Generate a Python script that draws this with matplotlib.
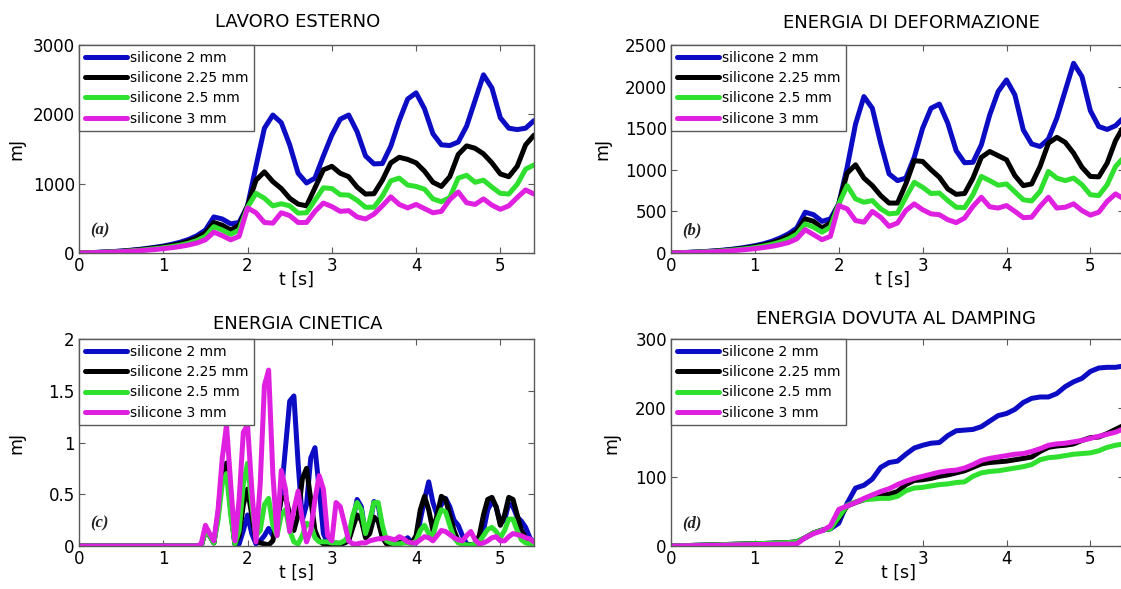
import numpy as np
import matplotlib
matplotlib.use('Agg')
import matplotlib.pyplot as plt

# sampling times [s]
t = np.linspace(0, 5.4, 55)
t_kin = np.linspace(0, 5.4, 109)

labels = ['silicone 2 mm', 'silicone 2.25 mm', 'silicone 2.5 mm', 'silicone 3 mm']
colors = ['#0c0cc4', '#000000', '#2fe02f', '#e020e0']

# (a) lavoro esterno [mJ]
lav_2 = [0, 3, 8, 14, 20, 28, 38, 50, 65, 82,
         100, 125, 155, 195, 250, 330, 520, 490, 420, 440,
         680, 1250, 1800, 1990, 1880, 1560, 1150, 1010, 1080, 1400,
         1700, 1930, 1990, 1750, 1400, 1285, 1290, 1540, 1910, 2220,
         2310, 2080, 1720, 1560, 1550, 1600, 1830, 2200, 2570, 2380,
         1950, 1800, 1780, 1800, 1910]
lav_225 = [0, 3, 7, 12, 18, 25, 34, 45, 58, 73,
           90, 110, 135, 170, 220, 290, 440, 400, 330, 400,
           680, 1050, 1170, 1030, 930, 790, 705, 680, 940, 1200,
           1250, 1150, 1100, 950, 850, 855, 1050, 1300, 1380, 1350,
           1300, 1180, 1020, 960, 1100, 1420, 1545, 1510, 1430, 1300,
           1140, 1100, 1250, 1560, 1700]
lav_25 = [0, 2, 6, 10, 15, 21, 28, 37, 48, 61,
          75, 92, 113, 140, 180, 240, 380, 330, 270, 330,
          660, 860, 790, 680, 710, 680, 575, 580, 760, 940,
          930, 840, 835, 760, 660, 660, 820, 1040, 1080, 980,
          960, 920, 780, 740, 800, 1080, 1120, 1020, 1050, 950,
          860, 850, 990, 1210, 1270]
lav_3 = [0, 2, 5, 9, 13, 18, 24, 31, 40, 50,
         62, 76, 93, 115, 145, 190, 300, 250, 190, 240,
         650, 580, 440, 430, 580, 540, 440, 440, 600, 720,
         670, 600, 610, 520, 490, 560, 680, 810, 700, 650,
         700, 640, 580, 600, 770, 880, 725, 700, 780, 690,
         630, 680, 800, 910, 850]

# (b) energia di deformazione [mJ]
def_2 = [0, 3, 7, 12, 17, 24, 32, 42, 55, 70,
         88, 110, 140, 180, 230, 300, 490, 460, 380, 410,
         590, 1030, 1550, 1880, 1740, 1320, 950, 870, 900, 1150,
         1500, 1740, 1790, 1560, 1230, 1085, 1090, 1300, 1660, 1940,
         2080, 1900, 1480, 1310, 1280, 1370, 1620, 1950, 2280, 2120,
         1710, 1520, 1485, 1530, 1630]
def_225 = [0, 3, 6, 10, 15, 21, 28, 37, 48, 61,
           77, 97, 122, 155, 200, 265, 410, 380, 300, 360,
           590, 960, 1060, 900, 810, 690, 600, 600, 830, 1110,
           1100, 1000, 910, 770, 705, 715, 900, 1150, 1220, 1170,
           1120, 930, 810, 830, 1040, 1320, 1390, 1330, 1200, 1030,
           920, 915, 1080, 1350, 1530]
def_25 = [0, 2, 5, 9, 13, 18, 24, 32, 41, 52,
          65, 82, 103, 130, 170, 225, 350, 310, 250, 310,
          590, 810, 650, 610, 630, 530, 470, 480, 670, 850,
          790, 715, 720, 630, 550, 545, 700, 920, 870, 815,
          830, 735, 640, 625, 740, 980, 900, 870, 900, 820,
          700, 690, 820, 1040, 1150]
def_3 = [0, 2, 4, 7, 10, 14, 19, 25, 33, 42,
         52, 65, 80, 100, 125, 170, 280, 220, 160, 200,
         570, 530, 390, 370, 500, 430, 320, 360, 510, 590,
         520, 470, 460, 400, 365, 420, 560, 670, 555, 540,
         570, 500, 425, 430, 560, 670, 540, 550, 590, 510,
         455, 490, 620, 710, 650]

# (c) energia cinetica [mJ], at rest until 1.45 s
kin_2 = [0.0] * 29 + [
    0.0, 0.15, 0.10, 0.03, 0.30, 0.70, 0.80, 0.35, 0.02, 0.02,
    0.15, 0.30, 0.12, 0.02, 0.05, 0.10, 0.17, 0.10, 0.15, 0.50,
    0.95, 1.40, 1.45, 0.80, 0.25, 0.40, 0.85, 0.95, 0.55, 0.12,
    0.03, 0.02, 0.03, 0.02, 0.03, 0.05, 0.25, 0.45, 0.38, 0.10,
    0.20, 0.43, 0.40, 0.15, 0.03, 0.02, 0.02, 0.03, 0.05, 0.08,
    0.03, 0.03, 0.25, 0.45, 0.62, 0.42, 0.30, 0.40, 0.46, 0.38,
    0.25, 0.20, 0.10, 0.02, 0.01, 0.02, 0.05, 0.15, 0.35, 0.43,
    0.38, 0.22, 0.25, 0.41, 0.38, 0.28, 0.24, 0.18, 0.08, 0.03]
kin_225 = [0.0] * 29 + [
    0.0, 0.15, 0.10, 0.03, 0.30, 0.75, 0.80, 0.35, 0.02, 0.10,
    0.40, 0.55, 0.30, 0.05, 0.03, 0.02, 0.01, 0.05, 0.25, 0.45,
    0.48, 0.30, 0.15, 0.30, 0.65, 0.75, 0.45, 0.15, 0.05, 0.02,
    0.02, 0.02, 0.02, 0.02, 0.03, 0.05, 0.18, 0.30, 0.25, 0.08,
    0.12, 0.28, 0.24, 0.08, 0.02, 0.02, 0.02, 0.03, 0.04, 0.05,
    0.03, 0.10, 0.35, 0.48, 0.35, 0.15, 0.30, 0.48, 0.45, 0.30,
    0.15, 0.05, 0.02, 0.01, 0.01, 0.02, 0.10, 0.30, 0.45, 0.47,
    0.38, 0.20, 0.30, 0.47, 0.45, 0.30, 0.15, 0.08, 0.04, 0.02]
kin_25 = [0.0] * 29 + [
    0.0, 0.15, 0.10, 0.03, 0.25, 0.60, 0.70, 0.30, 0.02, 0.15,
    0.60, 0.80, 0.40, 0.10, 0.15, 0.40, 0.46, 0.20, 0.10, 0.30,
    0.35, 0.15, 0.04, 0.02, 0.10, 0.22, 0.20, 0.08, 0.04, 0.04,
    0.04, 0.03, 0.03, 0.03, 0.05, 0.10, 0.30, 0.42, 0.35, 0.12,
    0.25, 0.42, 0.42, 0.20, 0.05, 0.03, 0.02, 0.02, 0.03, 0.03,
    0.02, 0.05, 0.15, 0.20, 0.12, 0.10, 0.25, 0.35, 0.33, 0.20,
    0.08, 0.03, 0.02, 0.01, 0.01, 0.02, 0.04, 0.10, 0.16, 0.18,
    0.14, 0.08, 0.15, 0.26, 0.26, 0.15, 0.06, 0.03, 0.02, 0.02]
kin_3 = [0.0] * 29 + [
    0.02, 0.20, 0.12, 0.05, 0.35, 0.85, 1.17, 0.60, 0.05, 0.45,
    1.10, 1.17, 0.55, 0.04, 0.60, 1.55, 1.70, 0.70, 0.10, 0.73,
    0.55, 0.14, 0.35, 0.53, 0.25, 0.04, 0.15, 0.45, 0.68, 0.55,
    0.10, 0.05, 0.42, 0.38, 0.22, 0.05, 0.02, 0.02, 0.03, 0.03,
    0.05, 0.06, 0.07, 0.07, 0.08, 0.07, 0.06, 0.09, 0.07, 0.04,
    0.03, 0.03, 0.06, 0.09, 0.08, 0.05, 0.10, 0.15, 0.14, 0.11,
    0.08, 0.06, 0.05, 0.10, 0.14, 0.06, 0.02, 0.03, 0.05, 0.08,
    0.09, 0.05, 0.05, 0.09, 0.12, 0.11, 0.10, 0.08, 0.07, 0.04]

# (d) energia dovuta al damping [mJ]
damp_2 = [0, 0.3, 0.6, 1, 1.3, 1.6, 2, 2.3, 2.6, 3,
          3.3, 3.6, 4, 4.5, 5, 6, 12, 19, 23, 25,
          33, 62, 84, 88, 97, 114, 121, 123, 133, 142,
          146, 149, 150, 160, 167, 168, 169, 173, 181, 189,
          192, 198, 208, 214, 216, 216, 221, 231, 238, 243,
          253, 258, 259, 259, 261]
damp_225 = [0, 0.3, 0.6, 1, 1.3, 1.6, 2, 2.3, 2.6, 3,
            3.3, 3.6, 4, 4.5, 5, 6, 12, 19, 23, 25,
            40, 58, 63, 67, 70, 73, 75, 79, 89, 95,
            96, 98, 101, 103, 106, 109, 114, 119, 121, 122,
            123, 125, 127, 129, 137, 143, 145, 146, 148, 153,
            157, 158, 163, 169, 175]
damp_25 = [0, 0.3, 0.6, 1, 1.3, 1.6, 2, 2.3, 2.6, 3,
           3.3, 3.6, 4, 4.5, 5, 6, 12, 19, 23, 25,
           42, 59, 64, 67, 68, 69, 69, 72, 80, 84,
           85, 87, 89, 90, 92, 93, 101, 106, 108, 109,
           111, 113, 115, 118, 125, 128, 129, 131, 133, 134,
           135, 138, 143, 146, 148]
damp_3 = [0, 0.2, 0.4, 0.6, 0.8, 1, 1.2, 1.4, 1.6, 1.8,
          2, 2.2, 2.4, 2.6, 2.8, 3, 12, 18, 22, 29,
          53, 58, 63, 69, 74, 79, 83, 89, 94, 98,
          101, 104, 107, 109, 110, 113, 118, 124, 127, 129,
          131, 133, 134, 137, 141, 146, 148, 149, 151, 153,
          156, 159, 162, 165, 170]

plt.rcParams['font.family'] = 'DejaVu Sans'
AXCOL = '#5a5a5a'


def draw_panel(ax, tt, series, title, ylim, yticks, tag, title_x, title_pad, xlab_x, ylab_x):
    for y, c, lab in zip(series, colors, labels):
        ax.plot(tt, y, color=c, lw=3.6, label=lab,
                solid_joinstyle='round', solid_capstyle='round')
    ax.set_xlim(0, 5.4)
    ax.set_ylim(*ylim)
    ax.set_xticks(range(6))
    ax.set_yticks(yticks)
    ax.set_yticklabels(['%g' % v for v in yticks])
    ax.tick_params(direction='in', top=True, right=True, length=4, width=0.8,
                   color=AXCOL, labelsize=12, pad=3)
    for s in ax.spines.values():
        s.set_color(AXCOL)
        s.set_linewidth(1.0)
    ax.set_title(title, fontsize=13, x=title_x, pad=title_pad)
    ax.set_xlabel('t [s]', fontsize=12.5)
    ax.xaxis.set_label_coords(xlab_x, -0.085)
    ax.set_ylabel('mJ', fontsize=12.5)
    ax.yaxis.set_label_coords(ylab_x, 0.5)
    ax.text(0.025, 0.09, tag, transform=ax.transAxes, family='Liberation Serif',
            style='italic', weight='bold', fontsize=12, color='#222222')
    leg = ax.legend(loc='upper left', borderaxespad=0, fontsize=10, handlelength=3,
                    handletextpad=0.25, labelspacing=0.45, borderpad=0.42,
                    fancybox=False, framealpha=1, edgecolor=AXCOL)
    leg.get_frame().set_linewidth(1.0)


fig = plt.figure(figsize=(11.21, 5.89), dpi=100)
ax_a = fig.add_axes([0.0705, 0.5705, 0.4059, 0.3531])
ax_b = fig.add_axes([0.5986, 0.5705, 0.4040, 0.3531])
ax_c = fig.add_axes([0.0705, 0.0730, 0.4059, 0.3514])
ax_d = fig.add_axes([0.5986, 0.0730, 0.4040, 0.3514])

draw_panel(ax_a, t, [lav_2, lav_225, lav_25, lav_3], 'LAVORO ESTERNO',
           (0, 3000), [0, 1000, 2000, 3000], '(a)', 0.48, 13, 0.478, -0.119)
draw_panel(ax_b, t, [def_2, def_225, def_25, def_3], 'ENERGIA DI DEFORMAZIONE',
           (0, 2500), [0, 500, 1000, 1500, 2000, 2500], '(b)', 0.53, 12, 0.49, -0.132)
draw_panel(ax_c, t_kin, [kin_2, kin_225, kin_25, kin_3], 'ENERGIA CINETICA',
           (0, 2), [0, 0.5, 1, 1.5, 2], '(c)', 0.48, 7, 0.478, -0.119)
draw_panel(ax_d, t, [damp_2, damp_225, damp_25, damp_3], 'ENERGIA DOVUTA AL DAMPING',
           (0, 300), [0, 100, 200, 300], '(d)', 0.497, 10.5, 0.502, -0.112)

fig.savefig('out.png', dpi=100)
